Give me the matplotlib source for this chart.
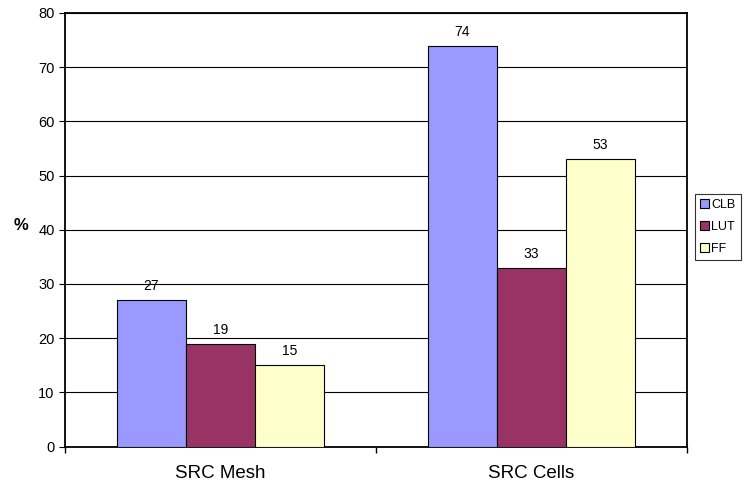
import matplotlib
matplotlib.use("Agg")
import matplotlib.pyplot as plt
import numpy as np

plt.rcParams['font.family'] = ['Liberation Sans', 'DejaVu Sans']

categories = ['SRC Mesh', 'SRC Cells']
series_names = ['CLB', 'LUT', 'FF']
clb = [27, 74]
lut = [19, 33]
ff = [15, 53]
colors = ['#9999FF', '#993366', '#FFFFCC']

fig = plt.figure(figsize=(7.44, 4.87), dpi=100)
ax = fig.add_axes([65 / 744, 1 - 446.5 / 487, 622 / 744, 433.5 / 487])

x = np.arange(len(categories))
width = 0.222
for i, (name, vals) in enumerate(zip(series_names, [clb, lut, ff])):
    bars = ax.bar(x + (i - 1) * width, vals, width, color=colors[i],
                  edgecolor='black', linewidth=0.8, label=name, zorder=3)
    for b, v in zip(bars, vals):
        ax.annotate(str(v), (b.get_x() + b.get_width() / 2, v),
                    xytext=(0, 5), textcoords='offset points',
                    ha='center', va='bottom', fontsize=10)

ax.set_xlim(-0.5, 1.5)
ax.set_ylim(0, 80)
ax.set_yticks(range(0, 81, 10))
ax.yaxis.grid(True, color='black', linewidth=0.8, zorder=0)
ax.set_xticks(x)
ax.set_xticklabels(categories, fontsize=13.5)
ax.tick_params(axis='x', length=0, pad=13)
ax.set_xticks([-0.5, 0.5, 1.5], minor=True)
ax.tick_params(axis='x', which='minor', length=4.5, width=1)
ax.tick_params(axis='y', length=4, width=0.8, labelsize=10.5)
for s in ax.spines.values():
    s.set_linewidth(1.3)

fig.text(21 / 744, 1 - 226 / 487, '%', fontsize=12, fontweight='bold',
         ha='center', va='center')

leg = fig.legend(loc='upper left', bbox_to_anchor=(695 / 744, 1 - 194 / 487),
                 fontsize=9, frameon=True, fancybox=False, edgecolor='black',
                 handlelength=0.7, handleheight=0.7, handletextpad=0.2,
                 borderpad=0.4, labelspacing=0.8, borderaxespad=0)
leg.get_frame().set_linewidth(0.8)

fig.savefig('out.png', dpi=100)
